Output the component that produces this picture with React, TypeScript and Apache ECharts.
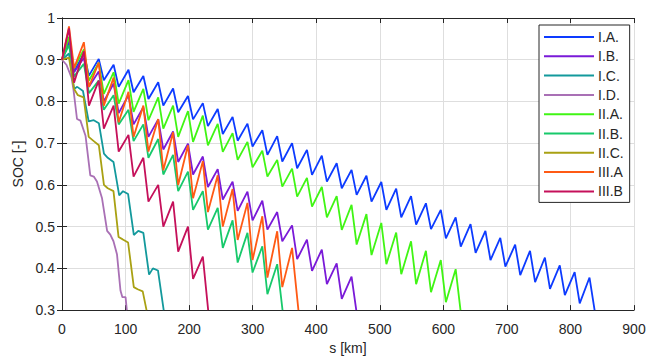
import React, { useEffect, useRef } from "react";
import * as echarts from "echarts";

// ---- data ----
const seriesNames = ["I.A.", "I.B.", "I.C.", "I.D.", "II.A.", "II.B.", "II.C.", "III.A", "III.B"];
const seriesColors = ["#0d3bff", "#7a1ad8", "#13999c", "#a970b5", "#40f514", "#17c96b", "#a9a113", "#ff5a14", "#c5105a"];

const xTicks = [0, 100, 200, 300, 400, 500, 600, 700, 800, 900];
const yTicks = [0.3, 0.4, 0.5, 0.6, 0.7, 0.8, 0.9, 1];

// km positions of the cycle tops and bottoms (shared drive cycle)
const peakKm = [11, 34.4, 57.8, 81.2, 104.6, 128, 151.4, 174.8, 198.2, 221.6, 245, 268.4, 291.8, 315.2, 338.6, 362, 385.4, 408.8, 432.2, 455.6, 479, 502.4, 525.8, 549.2, 572.6, 596, 619.4, 642.8, 666.2, 689.6, 713, 736.4, 759.8, 783.2, 806.6, 830];
const valleyKm = [19, 42.4, 65.8, 89.2, 112.6, 136, 159.4, 182.8, 206.2, 229.6, 253, 276.4, 299.8, 323.2, 346.6, 370, 393.4, 416.8, 440.2, 463.6, 487, 510.4, 533.8, 557.2, 580.6, 604, 627.4, 650.8, 674.2, 697.6, 721, 744.4, 767.8, 791.2, 814.6];

const startSoc = 0.9;
const endSoc = 0.3;

// I.A.
const iaPeaks = [0.94, 0.915, 0.902, 0.888, 0.876, 0.861, 0.846, 0.831, 0.813, 0.796, 0.782, 0.763, 0.747, 0.731, 0.717, 0.7, 0.684, 0.67, 0.652, 0.636, 0.622, 0.607, 0.591, 0.573, 0.556, 0.54, 0.522, 0.506, 0.49, 0.473, 0.457, 0.442, 0.426, 0.407, 0.391, 0.378];
const iaValleys = [0.872, 0.862, 0.851, 0.835, 0.822, 0.806, 0.79, 0.774, 0.757, 0.741, 0.722, 0.706, 0.692, 0.672, 0.656, 0.64, 0.624, 0.608, 0.592, 0.576, 0.56, 0.54, 0.522, 0.505, 0.494, 0.472, 0.452, 0.437, 0.42, 0.404, 0.384, 0.367, 0.351, 0.336, 0.316];
const iaEnd = 838;

// I.B.
const ibPeaks = [0.95, 0.905, 0.872, 0.843, 0.815, 0.786, 0.757, 0.728, 0.699, 0.668, 0.638, 0.608, 0.584, 0.562, 0.535, 0.503, 0.469, 0.445, 0.412, 0.38];
const ibValleys = [0.87, 0.835, 0.8, 0.772, 0.745, 0.715, 0.685, 0.655, 0.625, 0.595, 0.565, 0.538, 0.515, 0.493, 0.465, 0.422, 0.394, 0.362, 0.327];
const ibEnd = 463;

// II.A.
const iiaPeaks = [0.955, 0.925, 0.893, 0.87, 0.851, 0.83, 0.81, 0.79, 0.777, 0.766, 0.746, 0.724, 0.703, 0.682, 0.66, 0.639, 0.617, 0.595, 0.573, 0.552, 0.53, 0.509, 0.486, 0.465, 0.442, 0.42, 0.398];
const iiaValleys = [0.88, 0.85, 0.818, 0.795, 0.775, 0.755, 0.735, 0.715, 0.703, 0.695, 0.679, 0.66, 0.642, 0.62, 0.596, 0.572, 0.548, 0.522, 0.492, 0.457, 0.432, 0.41, 0.386, 0.362, 0.343, 0.319];
const iiaEnd = 627;

// II.B.
const iibPeaks = [0.935, 0.89, 0.85, 0.815, 0.78, 0.745, 0.71, 0.672, 0.632, 0.585, 0.545, 0.515, 0.485, 0.453, 0.41];
const iibValleys = [0.86, 0.82, 0.78, 0.745, 0.705, 0.665, 0.625, 0.585, 0.54, 0.493, 0.449, 0.414, 0.39, 0.338];
const iibEnd = 347;

// III.A
const iiiaPeaks = [0.98, 0.942, 0.893, 0.857, 0.823, 0.79, 0.758, 0.726, 0.695, 0.657, 0.623, 0.59, 0.557, 0.525, 0.489, 0.449];
const iiiaValleys = [0.88, 0.835, 0.79, 0.75, 0.715, 0.68, 0.635, 0.6, 0.568, 0.535, 0.5, 0.468, 0.42, 0.378, 0.355];
const iiiaEnd = 372;

// III.B
const iiibPeaks = [0.975, 0.92, 0.85, 0.79, 0.72, 0.665, 0.6, 0.56, 0.5, 0.428];
const iiibValleys = [0.845, 0.79, 0.735, 0.68, 0.62, 0.56, 0.5, 0.44, 0.375];
const iiibEnd = 230;

// steep series, typed point by point: [km, SOC]
const icPoints = [[0, 0.9], [11, 0.915], [19, 0.83], [24, 0.835], [33, 0.825], [42, 0.752], [50, 0.755], [58, 0.748], [66, 0.675], [72, 0.665], [81, 0.655], [90, 0.575], [96, 0.585], [104, 0.578], [113, 0.48], [120, 0.49], [128, 0.485], [137, 0.385], [143, 0.4], [151, 0.395], [160, 0.3]];
const idPoints = [[0, 0.9], [7, 0.888], [15, 0.857], [18, 0.829], [23.6, 0.758], [29, 0.754], [37, 0.718], [44.5, 0.623], [50, 0.62], [55, 0.608], [63, 0.568], [71, 0.49], [76, 0.481], [81, 0.465], [86.5, 0.434], [92, 0.347], [95, 0.331], [100, 0.331], [102, 0.3]];
const iicPoints = [[0, 0.9], [11, 0.905], [19, 0.83], [25, 0.815], [34, 0.81], [42, 0.715], [50, 0.705], [58, 0.695], [66, 0.6], [72, 0.592], [81, 0.585], [89, 0.475], [95, 0.47], [104, 0.462], [113, 0.355], [119, 0.35], [127, 0.345], [133, 0.3]];

function cyclePoints(peaks: number[], valleys: number[], endKm: number): number[][] {
  const pts: number[][] = [[0, startSoc]];
  for (let k = 0; k < peaks.length; k++) {
    pts.push([peakKm[k], peaks[k]]);
    if (k < valleys.length) pts.push([valleyKm[k], valleys[k]]);
  }
  pts.push([endKm, endSoc]);
  return pts;
}

const seriesData: number[][][] = [
  cyclePoints(iaPeaks, iaValleys, iaEnd),
  cyclePoints(ibPeaks, ibValleys, ibEnd),
  icPoints,
  idPoints,
  cyclePoints(iiaPeaks, iiaValleys, iiaEnd),
  cyclePoints(iibPeaks, iibValleys, iibEnd),
  iicPoints,
  cyclePoints(iiiaPeaks, iiiaValleys, iiiaEnd),
  cyclePoints(iiibPeaks, iiibValleys, iiibEnd),
];

const FONT = "Liberation Sans, Arial, sans-serif";
const TXT = "#262626";

export default function App() {
  const ref = useRef<HTMLDivElement>(null);
  useEffect(() => {
    if (!ref.current) return;
    const chart = echarts.init(ref.current, null, { renderer: "svg" });
    const tickAxisCommon = {
      axisLine: { show: true, lineStyle: { color: TXT, width: 1 } },
      axisTick: { show: true, inside: true, length: 5, lineStyle: { color: TXT } },
    };
    chart.setOption({
      animation: false,
      backgroundColor: "#ffffff",
      grid: { left: 62, right: 15, top: 18, bottom: 47, containLabel: false },
      legend: {
        orient: "vertical",
        left: 539,
        top: 25,
        padding: [5, 6, 4, 5],
        itemWidth: 50,
        itemHeight: 2,
        itemGap: 5.3,
        icon: "rect",
        backgroundColor: "#ffffff",
        borderColor: TXT,
        borderWidth: 1,
        borderRadius: 0,
        data: seriesNames,
        textStyle: { fontFamily: FONT, fontSize: 14, color: TXT, lineHeight: 14, padding: [0, 0, 0, -1] },
      },
      xAxis: [
        {
          type: "value",
          min: xTicks[0],
          max: xTicks[xTicks.length - 1],
          interval: 100,
          name: "s [km]",
          nameLocation: "middle",
          nameGap: 29,
          nameTextStyle: { fontFamily: FONT, fontSize: 14, color: TXT },
          ...tickAxisCommon,
          axisLabel: { fontFamily: FONT, fontSize: 14, color: TXT, margin: 12 },
          splitLine: { show: true, lineStyle: { color: "#dedede", width: 1 } },
        },
        {
          type: "value",
          position: "top",
          min: xTicks[0],
          max: xTicks[xTicks.length - 1],
          interval: 100,
          ...tickAxisCommon,
          axisLabel: { show: false },
          splitLine: { show: false },
        },
      ],
      yAxis: [
        {
          type: "value",
          min: yTicks[0],
          max: yTicks[yTicks.length - 1],
          interval: 0.1,
          name: "SOC [-]",
          nameLocation: "middle",
          nameGap: 35,
          nameTextStyle: { fontFamily: FONT, fontSize: 14, color: TXT },
          ...tickAxisCommon,
          axisLabel: {
            fontFamily: FONT,
            fontSize: 14,
            color: TXT,
            margin: 7,
            formatter: (v: number) => String(Math.round(v * 10) / 10),
          },
          splitLine: { show: true, lineStyle: { color: "#dedede", width: 1 } },
        },
        {
          type: "value",
          position: "right",
          min: yTicks[0],
          max: yTicks[yTicks.length - 1],
          interval: 0.1,
          ...tickAxisCommon,
          axisLabel: { show: false },
          splitLine: { show: false },
        },
      ],
      series: seriesNames.map((name, i) => ({
        name,
        type: "line",
        data: seriesData[i],
        xAxisIndex: 0,
        yAxisIndex: 0,
        showSymbol: false,
        symbol: "none",
        clip: true,
        color: seriesColors[i],
        lineStyle: { color: seriesColors[i], width: 1.8 },
        z: 2 + i,
      })),
    });
    return () => chart.dispose();
  }, []);
  return <div ref={ref} style={{ width: 649, height: 360, position: "absolute", left: 0, top: 0 }} />;
}
